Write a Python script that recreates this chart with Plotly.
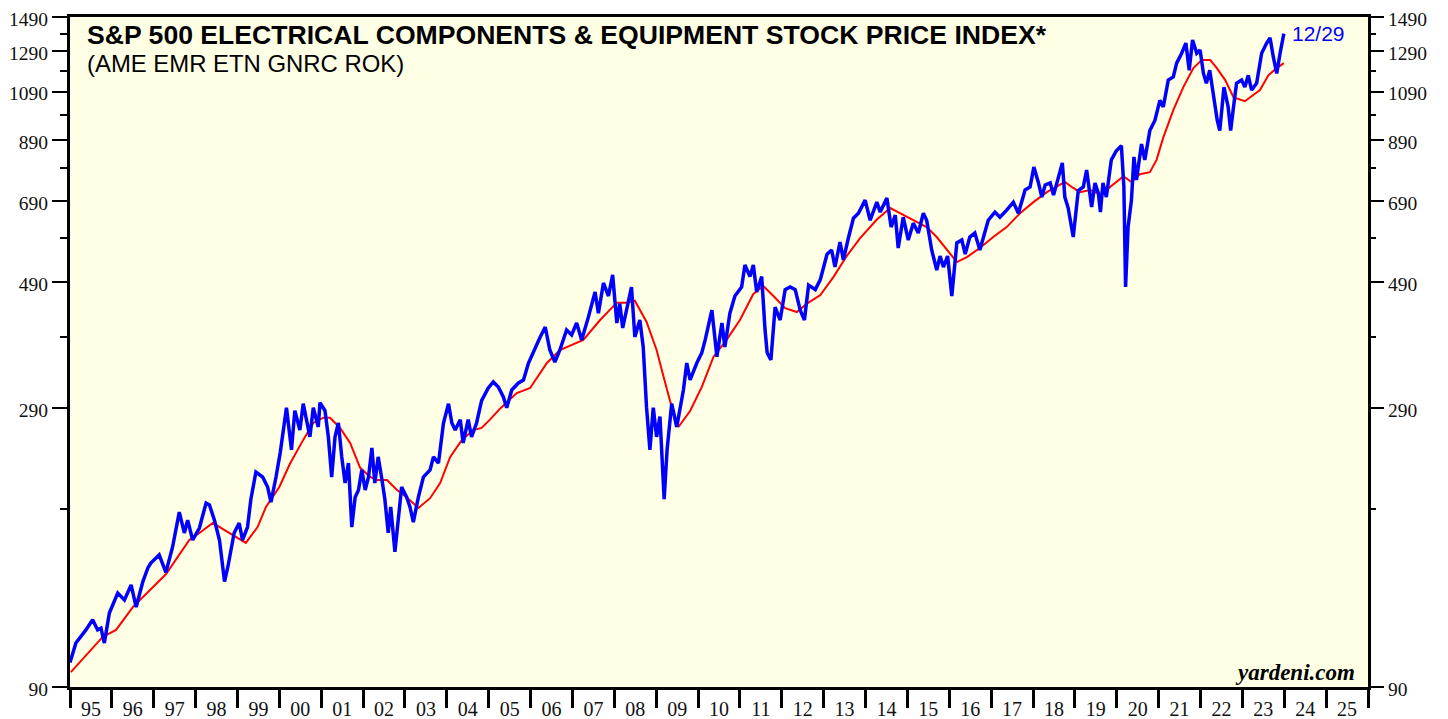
import plotly.graph_objects as go
import math

# ---- Data ----
blue_t = [1995.00,1995.14,1995.38,1995.54,1995.66,1995.74,1995.82,1995.94,1996.14,1996.30,1996.46,1996.58,1996.74,1996.86,1996.93,
          1997.13,1997.29,1997.45,1997.61,1997.73,1997.81,1997.93,1998.09,1998.25,1998.33,1998.45,1998.57,1998.69,1998.77,1998.85,1998.92,
          1999.04,1999.12,1999.24,1999.32,1999.44,1999.60,1999.72,1999.80,1999.92,2000.02,2000.17,2000.29,2000.37,2000.49,2000.57,2000.73,
          2000.81,2000.93,2000.97,2001.09,2001.17,2001.25,2001.33,2001.41,2001.49,2001.57,2001.65,2001.73,2001.81,2001.89,2001.97,2002.05,
          2002.13,2002.21,2002.28,2002.36,2002.44,2002.52,2002.60,2002.66,2002.76,2002.84,2002.92,2003.04,2003.12,2003.20,2003.32,2003.44,
          2003.60,2003.68,2003.80,2003.92,2004.04,2004.12,2004.20,2004.32,2004.39,2004.51,2004.59,2004.71,2004.83,2004.99,2005.11,2005.23,
          2005.35,2005.43,2005.55,2005.71,2005.83,2005.95,2006.11,2006.23,2006.35,2006.46,2006.58,2006.70,2006.86,2006.98,2007.10,2007.22,
          2007.38,2007.54,2007.62,2007.74,2007.86,2007.96,2008.06,2008.13,2008.20,2008.30,2008.41,2008.49,2008.61,2008.69,2008.77,2008.85,
          2008.93,2009.01,2009.09,2009.19,2009.26,2009.37,2009.49,2009.65,2009.73,2009.81,2009.97,2010.09,2010.17,2010.33,2010.45,2010.57,
          2010.64,2010.76,2010.88,2011.04,2011.12,2011.24,2011.32,2011.40,2011.52,2011.60,2011.65,2011.74,2011.84,2011.96,2012.08,2012.20,
          2012.32,2012.44,2012.54,2012.64,2012.80,2012.92,2013.08,2013.19,2013.27,2013.39,2013.47,2013.59,2013.71,2013.83,2013.99,2014.11,
          2014.27,2014.35,2014.51,2014.61,2014.71,2014.78,2014.90,2015.02,2015.14,2015.26,2015.38,2015.46,2015.58,2015.70,2015.78,2015.86,
          2015.96,2016.06,2016.18,2016.30,2016.38,2016.49,2016.61,2016.73,2016.85,2016.93,2017.09,2017.21,2017.37,2017.53,2017.65,2017.81,
          2017.93,2018.02,2018.13,2018.21,2018.29,2018.41,2018.49,2018.61,2018.70,2018.76,2018.84,2018.96,2019.08,2019.20,2019.28,2019.40,
          2019.48,2019.56,2019.61,2019.67,2019.75,2019.87,2019.99,2020.11,2020.17,2020.21,2020.27,2020.35,2020.41,2020.47,2020.59,2020.67,
          2020.79,2020.91,2021.03,2021.11,2021.23,2021.35,2021.43,2021.55,2021.65,2021.73,2021.81,2021.91,2021.99,2022.07,2022.14,2022.22,
          2022.32,2022.40,2022.46,2022.56,2022.66,2022.72,2022.80,2022.86,2022.98,2023.06,2023.14,2023.22,2023.34,2023.46,2023.58,2023.66,
          2023.74,2023.82,2023.90,2023.99]
blue_v = [99.7,108.2,114.3,119.3,114.3,115.2,108.2,122.7,133.4,129.6,138,125.8,140,148.2,151.3,
          156.5,145.5,161.8,187.3,171.6,181,166.6,175.2,194.5,193,181,166.6,140,148.8,161.8,171.6,
          178.9,166.6,175.9,197.6,221.5,216.9,208,195.3,216.9,240,290,243,286.4,264,294.9,256.6,
          290,267.5,296.1,286.4,256.6,216.9,256.6,272,236,211.5,229.9,175.9,199.3,205.4,223.5,205.4,
          216.9,245,211.5,236,216.9,197.6,171.6,191.3,158.5,183.3,208,199.3,191.3,179.6,199.3,216.9,
          223.5,236,229.9,272,294.9,272,264,275.8,250.2,275.8,256.6,272,298.6,315,323,316.3,
          303.4,290,312.3,321.6,325.7,349.7,374,390,406.6,369.3,351.2,369.3,401.5,393.3,413.5,385.2,
          423.8,470.8,430.8,489,463,506,413.5,448.4,405,442,480.8,390,418.7,374,290,243,
          290,256.6,279.3,197.6,243,294.9,267.5,312.3,349.7,325.7,349.7,365.1,385.2,436.5,359,413.5,
          374,430.8,463,480.8,527.2,502.2,527.2,470.8,502.2,401.5,365.1,354.3,442,418.7,475.5,480.8,
          475.5,436.5,418.7,484.8,475.5,496,551.6,561.4,522.8,580.6,538.8,590.3,641.4,654.9,691.9,636,
          686,658,697.7,618,649.6,566.1,644,585.4,628.2,602.8,654.9,636,561.4,516.3,547.4,522.8,
          547.4,463,578.3,585.4,552,592.8,602.8,561.4,610,636,658,644,663.6,686,654.9,722,
          731,795,743.5,700.6,737.3,743.5,706.5,763,808.6,700.6,669.3,592.8,720,731,785,672,
          743.5,712.5,658,743.5,700.6,819,851,869,731,480.8,618,691.9,829.5,752.9,875,819,
          926,966,1051,1022,1144,1159,1228,1280,1336,1192,1353,1280,1297,1176,1129,1192,
          1064,966,926,1111,1022,926,1039,1129,1144,1111,1167,1097,1129,1280,1336,1365,
          1259,1176,1280,1390]

red_t = [1995.02,1995.78,1996.10,1996.50,1997.29,1997.85,1998.09,1998.41,1998.80,1999.20,1999.48,1999.68,2000.00,2000.25,2000.57,
         2000.81,2001.05,2001.21,2001.45,2001.69,2001.93,2002.17,2002.33,2002.57,2002.81,2003.04,2003.32,2003.60,2003.84,2004.08,2004.36,
         2004.63,2004.83,2005.03,2005.27,2005.67,2005.99,2006.39,2006.70,2007.26,2007.66,2008.06,2008.30,2008.49,2008.77,2009.01,2009.17,
         2009.33,2009.53,2009.81,2010.09,2010.37,2010.68,2011.00,2011.32,2011.56,2011.80,2012.08,2012.36,2012.60,2012.92,2013.24,2013.55,
         2013.87,2014.27,2014.59,2014.82,2015.14,2015.46,2015.70,2015.94,2016.18,2016.42,2016.73,2017.05,2017.37,2017.69,2018.01,2018.33,
         2018.65,2018.76,2018.96,2019.12,2019.36,2019.64,2019.84,2020.16,2020.35,2020.55,2020.79,2020.95,2021.11,2021.35,2021.59,2021.83,
         2022.03,2022.23,2022.39,2022.59,2022.79,2023.06,2023.26,2023.42,2023.62,2023.82,2023.99]
red_v = [95.8,111,114.3,125.8,144.3,166.6,171.6,178.9,171.6,164.6,175.9,191.3,208,229,253.4,
         272,278.1,278,266.4,250.2,225.4,216.9,214.2,214.2,205.4,199.3,190.5,198.5,211.5,236,253.4,
         264,266.4,275.8,288.8,308.4,315,349.7,369.3,385.2,418.7,450.3,450.3,454,415.2,369.3,331.6,
         298.6,267.5,286,316.3,359,385.2,418.7,467,482.8,463,440,432.9,448.4,465,502.2,547.4,
         590,638,669.3,654.9,636,618,592.8,561.4,533.8,545,566.1,592.8,618,654.9,686,715.4,
         740,746.6,728,715.4,722,706.5,731,765,746.6,771,778,819,899,1009,1111,1203,
         1245,1245,1203,1144,1064,1047,1075,1097,1167,1203,1228]

year_ticks = list(range(1995, 2027))
year_label_pos = [y + 0.5 for y in range(1995, 2026)]
year_labels = ["%02d" % (y % 100) for y in range(1995, 2026)]
y_major = [90, 290, 490, 690, 890, 1090, 1290, 1490]
y_minor = [190, 390, 590, 790, 990, 1190, 1390]

title_text = "S&P 500 ELECTRICAL COMPONENTS & EQUIPMENT STOCK PRICE INDEX*"
subtitle_text = "(AME EMR ETN GNRC ROK)"
date_text = "12/29"
source_text = "yardeni.com"

# ---- Figure ----
yrange = [math.log10(90), math.log10(1490)]
serif = "Liberation Serif, Times New Roman, serif"
sans = "Liberation Sans, Arial, sans-serif"

fig = go.Figure()
fig.add_trace(go.Scatter(x=red_t, y=red_v, mode="lines",
                         line=dict(color="#FF0000", width=2), hoverinfo="skip", showlegend=False))
fig.add_trace(go.Scatter(x=blue_t, y=blue_v, mode="lines",
                         line=dict(color="#0000FF", width=3.5), hoverinfo="skip", showlegend=False))
# invisible trace for right axis
fig.add_trace(go.Scatter(x=[blue_t[0]], y=[blue_v[0]], yaxis="y2", mode="markers",
                         marker=dict(opacity=0), hoverinfo="skip", showlegend=False))

ytick_common = dict(
    type="log", range=yrange, showgrid=False, zeroline=False, automargin=False,
    tickmode="array", tickvals=y_major, ticktext=[str(v) for v in y_major],
    ticks="outside", ticklen=15, tickwidth=2, tickcolor="black",
    ticklabeloverflow="allow", ticklabelshift=2,
    tickfont=dict(family=serif, size=19.5, color="#111111"),
    minor=dict(tickmode="array", tickvals=y_minor, ticks="outside",
               ticklen=7, tickwidth=2, tickcolor="black", showgrid=False),
)

# page has an 8px body margin, so the figure is 1440x711 to fit the window
fig.update_layout(
    width=1440, height=711,
    margin=dict(l=62, r=80, t=9, b=32, autoexpand=False),
    paper_bgcolor="white",
    plot_bgcolor="#FFFFE6",
    font=dict(family=serif, size=20, color="#111111"),
    xaxis=dict(
        range=[1995, 2026], showgrid=False, zeroline=False, automargin=False,
        showline=True, linecolor="black", linewidth=3, mirror=True,
        tickmode="array", tickvals=year_label_pos, ticktext=year_labels,
        ticks="outside", ticklen=0, tickwidth=0,
        ticklabelstandoff=2, ticklabeloverflow="allow",
        tickfont=dict(family=serif, size=20, color="#111111"),
        minor=dict(tickmode="array", tickvals=year_ticks, ticks="outside",
                   ticklen=18, tickwidth=3, tickcolor="black", showgrid=False),
    ),
    yaxis=dict(showline=True, linecolor="black", linewidth=3, mirror=True, **ytick_common),
    yaxis2=dict(overlaying="y", side="right", showline=False, **ytick_common),
    annotations=[
        dict(text="<b>" + title_text.replace("&", "&amp;") + "</b>", xref="paper", yref="paper",
             x=0.0116, y=0.973, xanchor="left", yanchor="middle", showarrow=False,
             font=dict(family=sans, size=26.6, color="black")),
        dict(text=subtitle_text, xref="paper", yref="paper",
             x=0.0116, y=0.930, xanchor="left", yanchor="middle", showarrow=False,
             font=dict(family=sans, size=23.9, color="black")),
        dict(text=date_text, xref="paper", yref="paper",
             x=0.940, y=0.976, xanchor="left", yanchor="middle", showarrow=False,
             font=dict(family=sans, size=21, color="#0000FF")),
        dict(text="<b><i>" + source_text + "</i></b>", xref="paper", yref="paper",
             x=0.9915, y=0.022, xanchor="right", yanchor="middle", showarrow=False,
             font=dict(family=serif, size=23, color="black")),
    ],
)

fig.write_html("out.html")
